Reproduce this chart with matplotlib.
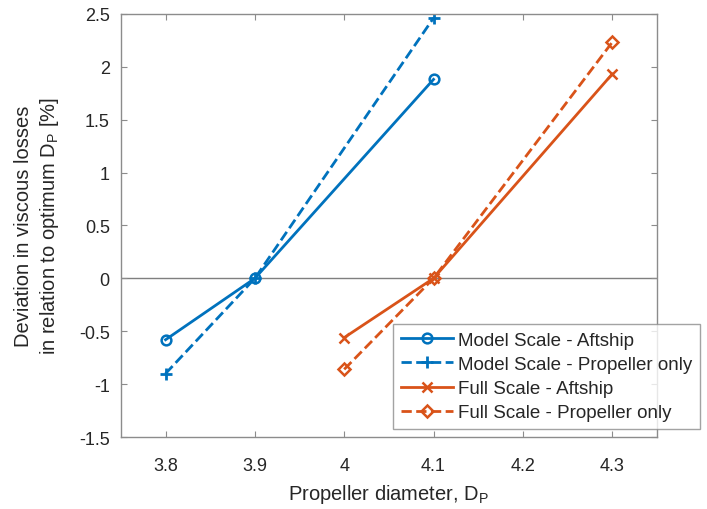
import matplotlib
matplotlib.use("Agg")
import matplotlib.pyplot as plt

plt.rcParams['font.family'] = ['Liberation Sans', 'DejaVu Sans']
plt.rcParams['mathtext.fontset'] = 'custom'
plt.rcParams['mathtext.rm'] = 'Liberation Sans'

# data
model_x = [3.8, 3.9, 4.1]
model_aft = [-0.58, 0.0, 1.88]
model_prop = [-0.90, 0.0, 2.46]

full_x = [4.0, 4.1, 4.3]
full_aft = [-0.56, 0.0, 1.93]
full_prop = [-0.86, 0.0, 2.23]

labels = ["Model Scale - Aftship", "Model Scale - Propeller only",
          "Full Scale - Aftship", "Full Scale - Propeller only"]

xticks = [3.8, 3.9, 4.0, 4.1, 4.2, 4.3]
xticklabels = ["3.8", "3.9", "4", "4.1", "4.2", "4.3"]
yticks = [-1.5, -1, -0.5, 0, 0.5, 1, 1.5, 2, 2.5]
yticklabels = ["-1.5", "-1", "-0.5", "0", "0.5", "1", "1.5", "2", "2.5"]

blue = '#0072BD'
orange = '#D95319'

fig = plt.figure(figsize=(7.07, 5.10), dpi=100)
ax = fig.add_axes([0.171, 0.141, 0.758, 0.830])

ax.axhline(0, color='#7f7f7f', lw=1.0, zorder=1)

ax.plot(model_x, model_aft, '-', color=blue, lw=2, marker='o', ms=7,
        mfc='none', mew=1.8, label=labels[0])
ax.plot(model_x, model_prop, '--', color=blue, lw=2, marker='+', ms=9,
        mew=2, label=labels[1])
ax.plot(full_x, full_aft, '-', color=orange, lw=2, marker='x', ms=7,
        mew=1.8, label=labels[2])
ax.plot(full_x, full_prop, '--', color=orange, lw=2, marker='D', ms=6,
        mfc='none', mew=1.8, label=labels[3])

ax.set_xlim(3.75, 4.35)
ax.set_ylim(-1.5, 2.5)
ax.set_xticks(xticks)
ax.set_xticklabels(xticklabels)
ax.set_yticks(yticks)
ax.set_yticklabels(yticklabels)

for s in ax.spines.values():
    s.set_color('#8c8c8c')
    s.set_linewidth(1.0)
ax.tick_params(direction='in', top=True, right=True, length=4,
               color='#8c8c8c', labelcolor='#262626', labelsize=13)
ax.tick_params(axis='x', pad=14)
ax.tick_params(axis='y', pad=8)

ax.set_xlabel(r'Propeller diameter, D$_\mathregular{P}$', fontsize=14.5,
              color='#262626', labelpad=6)
ax.set_ylabel('Deviation in viscous losses\n' +
              r'in relation to optimum D$_\mathregular{P}$ [%]',
              fontsize=14.5, color='#262626', labelpad=13, linespacing=1.3)

leg = ax.legend(loc='upper left', bbox_to_anchor=(393 / 707, 1 - 325 / 510),
                bbox_transform=fig.transFigure, fontsize=13.5, frameon=True,
                fancybox=False, handlelength=2.8, borderpad=0.4,
                labelspacing=0.38, handletextpad=0.27, borderaxespad=0)
leg.get_frame().set_edgecolor('#8c8c8c')
leg.get_frame().set_linewidth(1.0)
for t in leg.get_texts():
    t.set_color('#262626')

fig.savefig('out.png', dpi=100)
